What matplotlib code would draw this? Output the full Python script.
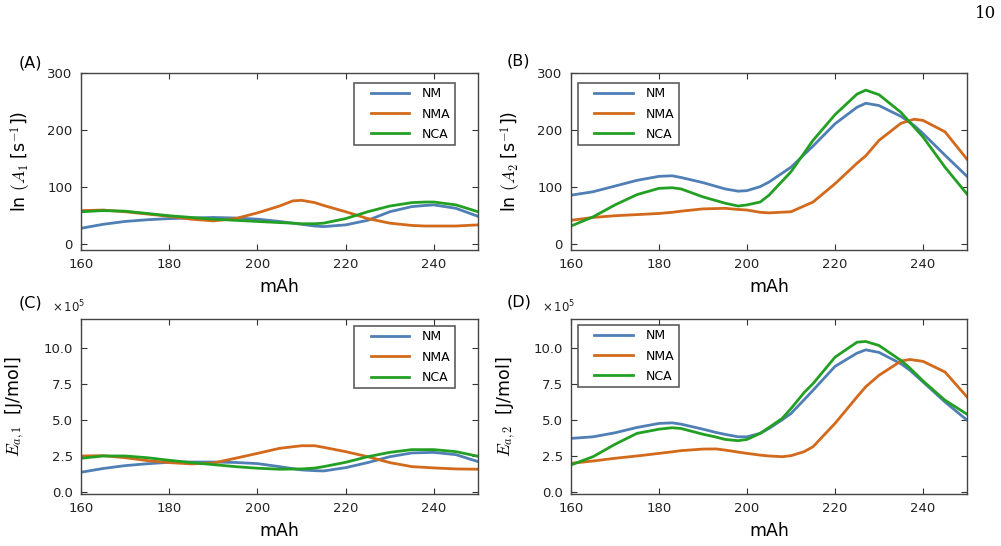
import numpy as np
import matplotlib
matplotlib.use('Agg')
import matplotlib.pyplot as plt
from matplotlib.legend_handler import HandlerLine2D
from matplotlib.lines import Line2D

# capacity grid (mAh) per panel
x_a = [160, 165, 170, 175, 180, 185, 190, 195, 200, 205, 208, 210, 213, 215, 220, 225, 230, 235, 238, 240, 245, 250]
a_nm = [28, 35, 40, 43, 45, 46, 47, 46, 44, 40, 37, 35, 32, 31, 34, 42, 57, 66, 68, 69, 63, 49]
a_nma = [59, 60, 57, 53, 49, 44, 41, 45, 55, 67, 76, 77, 73, 68, 57, 45, 37, 33, 32, 32, 32, 34]
a_nca = [57, 59, 58, 54, 50, 47, 44, 42, 40, 38, 37, 36, 36, 37, 45, 57, 67, 73, 74, 74, 69, 57]

x_b = [160, 165, 170, 175, 180, 183, 185, 190, 195, 198, 200, 203, 205, 210, 215, 220, 225, 227, 230, 235, 238, 240, 245, 250]
b_nm = [86, 92, 102, 112, 119, 120, 117, 108, 97, 93, 94, 101, 109, 135, 172, 211, 240, 247, 243, 224, 208, 194, 156, 119]
b_nma = [42, 47, 50, 52, 54, 56, 58, 62, 63, 61, 60, 56, 55, 57, 74, 106, 142, 155, 182, 212, 219, 217, 197, 149]
b_nca = [32, 48, 69, 87, 98, 99, 97, 83, 72, 67, 69, 74, 86, 127, 182, 227, 263, 270, 262, 231, 205, 188, 135, 88]

x_c = [160, 165, 170, 175, 180, 185, 190, 195, 200, 205, 210, 213, 215, 220, 225, 230, 235, 240, 245, 250]
c_nm = [1.36, 1.62, 1.82, 1.95, 2.05, 2.07, 2.07, 2.04, 1.96, 1.75, 1.52, 1.47, 1.45, 1.68, 2.03, 2.44, 2.70, 2.74, 2.58, 2.10]
c_nma = [2.49, 2.51, 2.37, 2.17, 2.03, 1.94, 2.00, 2.33, 2.67, 3.02, 3.20, 3.20, 3.09, 2.79, 2.44, 2.03, 1.75, 1.66, 1.59, 1.57]
c_nca = [2.33, 2.49, 2.49, 2.37, 2.19, 2.03, 1.89, 1.75, 1.64, 1.57, 1.59, 1.65, 1.75, 2.05, 2.44, 2.74, 2.93, 2.93, 2.79, 2.47]

x_d = [160, 165, 170, 175, 180, 183, 185, 190, 193, 195, 198, 200, 203, 205, 208, 210, 213, 215, 220, 225, 227, 230, 235, 237, 240, 245, 250]
d_nm = [3.71, 3.82, 4.10, 4.47, 4.75, 4.79, 4.70, 4.35, 4.12, 3.99, 3.82, 3.82, 4.06, 4.40, 5.00, 5.44, 6.40, 7.05, 8.71, 9.63, 9.86, 9.68, 8.89, 8.45, 7.63, 6.24, 4.98]
d_nma = [1.98, 2.14, 2.33, 2.49, 2.67, 2.78, 2.86, 2.97, 2.98, 2.90, 2.76, 2.67, 2.55, 2.49, 2.44, 2.51, 2.79, 3.13, 4.75, 6.59, 7.30, 8.09, 9.08, 9.19, 9.06, 8.32, 6.59]
d_nca = [1.87, 2.44, 3.30, 4.06, 4.35, 4.45, 4.40, 4.00, 3.80, 3.64, 3.55, 3.64, 4.06, 4.47, 5.10, 5.78, 6.90, 7.51, 9.35, 10.39, 10.44, 10.16, 9.12, 8.60, 7.70, 6.36, 5.39]

labels = ['NM', 'NMA', 'NCA']
colors = ['#4f7fb5', '#d2691b', '#23a023']
xticks = [160, 180, 200, 220, 240]

fig = plt.figure(figsize=(10.01, 5.46), dpi=100)
W, H = 1001., 546.

def make_ax(left, top, right, bottom):
    return fig.add_axes([left / W, 1 - bottom / H, (right - left) / W, (bottom - top) / H])

axA = make_ax(81, 73, 478, 250)
axB = make_ax(571, 73, 967, 250)
axC = make_ax(81, 319, 478, 494)
axD = make_ax(571, 319, 967, 494)

panels = [
    (axA, x_a, [a_nm, a_nma, a_nca], 1.0, 'upper right', (0.942, 0.944), r'ln $(A_1$ [s$^{-1}$])'),
    (axB, x_b, [b_nm, b_nma, b_nca], 1.0, 'upper left', (0.018, 0.944), r'ln $(A_2$ [s$^{-1}$])'),
    (axC, x_c, [c_nm, c_nma, c_nca], 1e5, 'upper right', (0.942, 0.96), r'$E_{a,1}$  [J/mol]'),
    (axD, x_d, [d_nm, d_nma, d_nca], 1e5, 'upper left', (0.018, 0.966), r'$E_{a,2}$  [J/mol]'),
]

for ax, x, ys, scale, loc, anchor, ylab in panels:
    for y, lab, c in zip(ys, labels, colors):
        ax.plot(x, np.array(y) * scale, color=c, lw=2, label=lab)
    ax.set_xlim(160, 250)
    ax.set_xticks(xticks)
    ax.tick_params(direction='in', top=True, right=True, labelsize=9.5,
                   length=4.5, color='#333333', labelcolor='#222222', pad=6)
    for s in ax.spines.values():
        s.set_color('#444444')
        s.set_linewidth(1.0)
    ax.set_xlabel('mAh', fontsize=12.5, labelpad=5)
    ax.set_ylabel(ylab, fontsize=12.5, math_fontfamily='cm')
    leg = ax.legend(loc=loc, bbox_to_anchor=anchor, fontsize=9, numpoints=2,
                    handler_map={Line2D: HandlerLine2D(marker_pad=0.95)},
                    handlelength=5.0, handletextpad=0.05,
                    labelspacing=0.58, borderpad=0.35, fancybox=False,
                    borderaxespad=0.0)
    leg.get_frame().set_edgecolor('#333333')
    leg.get_frame().set_linewidth(1.2)

for ax in (axA, axB):
    ax.set_ylim(-10, 300)
    ax.set_yticks([0, 100, 200, 300])
    ax.yaxis.set_label_coords(-0.12, 0.5)

for ax in (axC, axD):
    ax.set_ylim(-0.15e5, 12e5)
    ax.set_yticks(np.array([0, 2.5, 5.0, 7.5, 10.0]) * 1e5)
    ax.set_yticklabels(['0.0', '2.5', '5.0', '7.5', '10.0'])
    ax.yaxis.set_label_coords(-0.135, 0.5)
    ax.text(-0.072, 1.02, r'$\times\,10^5$', transform=ax.transAxes, fontsize=8.5,
            color='#222222', ha='left', va='bottom')

fig.text(19 / W, 1 - 63 / H, '(A)', fontsize=11.5, va='center')
fig.text(507 / W, 1 - 61 / H, '(B)', fontsize=11.5, va='center')
fig.text(19 / W, 1 - 303 / H, '(C)', fontsize=11.5, va='center')
fig.text(507 / W, 1 - 302 / H, '(D)', fontsize=11.5, va='center')
fig.text(975 / W, 1 - 14 / H, '10', fontsize=12, family='DejaVu Serif', va='center')

fig.savefig('out.png', dpi=100)
